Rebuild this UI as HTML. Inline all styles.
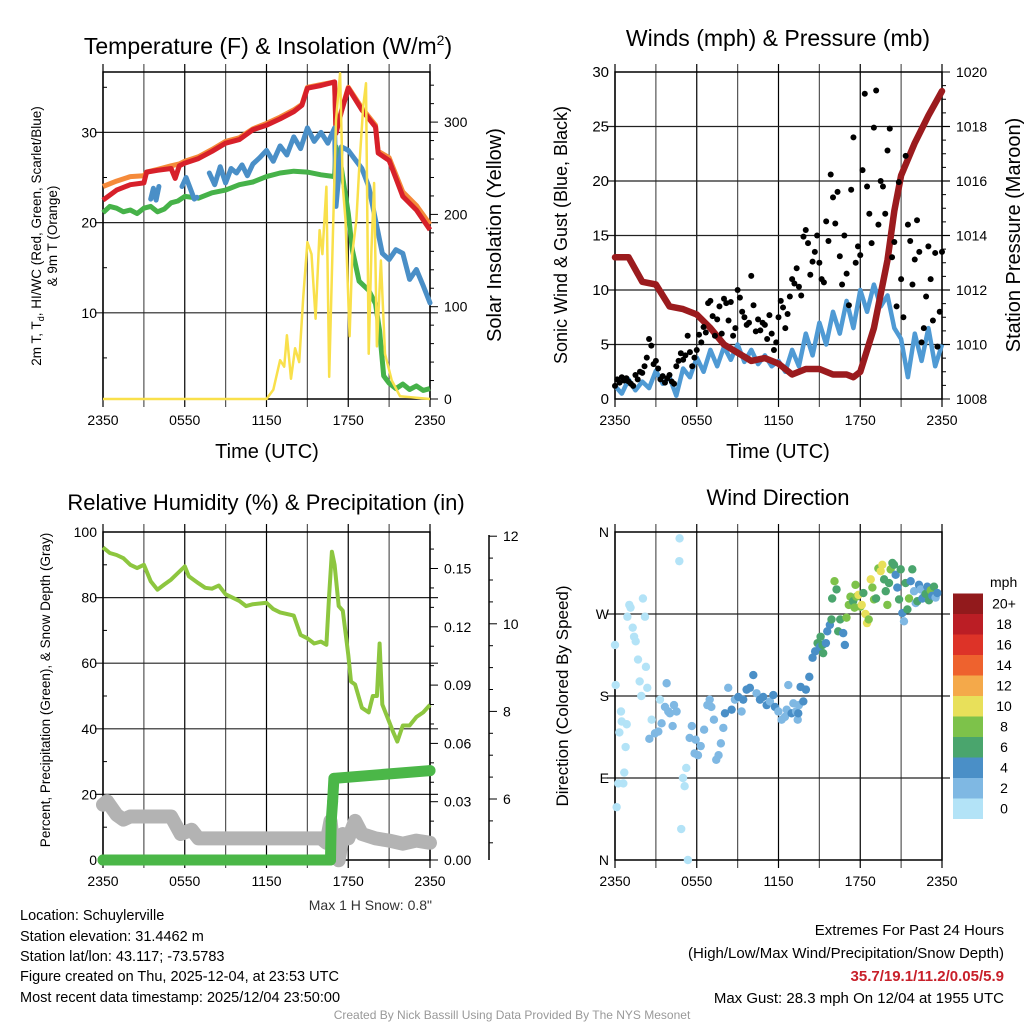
<!DOCTYPE html>
<html><head><meta charset="utf-8"><style>
html,body{margin:0;padding:0;background:#fff;}
svg{display:block;font-family:"Liberation Sans",sans-serif;}
</style></head><body>
<svg id="s" width="1024" height="1024" viewBox="0 0 1024 1024">
<rect width="1024" height="1024" fill="#fff"/>
<text x="268" y="54" font-size="23" text-anchor="middle">Temperature (F) &amp; Insolation (W/m<tspan font-size="14" dy="-9">2</tspan><tspan dy="9">)</tspan></text>
<text x="778" y="46" font-size="23" text-anchor="middle">Winds (mph) &amp; Pressure (mb)</text>
<text x="266" y="510" font-size="22" text-anchor="middle">Relative Humidity (%) &amp; Precipitation (in)</text>
<text x="778" y="505" font-size="22" text-anchor="middle">Wind Direction</text>
<text transform="translate(41,236) rotate(-90)" font-size="13.5" text-anchor="middle">2m T, T<tspan font-size="9" dy="3">d</tspan><tspan dy="-3">, HI/WC (Red, Green, Scarlet/Blue)</tspan></text>
<text transform="translate(57,236) rotate(-90)" font-size="13.5" text-anchor="middle">&amp; 9m T (Orange)</text>
<text transform="translate(501,235) rotate(-90)" font-size="20" text-anchor="middle">Solar Insolation (Yellow)</text>
<text x="267" y="458" font-size="20" text-anchor="middle">Time (UTC)</text>
<text x="778" y="458" font-size="20" text-anchor="middle">Time (UTC)</text>
<text transform="translate(567,235) rotate(-90)" font-size="18" text-anchor="middle">Sonic Wind &amp; Gust (Blue, Black)</text>
<text transform="translate(1020,235) rotate(-90)" font-size="20" text-anchor="middle">Station Pressure (Maroon)</text>
<text transform="translate(50,690) rotate(-90)" font-size="13.5" text-anchor="middle">Percent, Precipitation (Green), &amp; Snow Depth (Gray)</text>
<text transform="translate(568,696) rotate(-90)" font-size="17" text-anchor="middle">Direction (Colored By Speed)</text>
<text x="432" y="910" font-size="14" fill="#333" text-anchor="end">Max 1 H Snow: 0.8"</text>
<g font-size="14.5">
<text x="20" y="920">Location: Schuylerville</text>
<text x="20" y="941">Station elevation: 31.4462 m</text>
<text x="20" y="961">Station lat/lon: 43.117; -73.5783</text>
<text x="20" y="981">Figure created on Thu, 2025-12-04, at 23:53 UTC</text>
<text x="20" y="1002">Most recent data timestamp: 2025/12/04 23:50:00</text>
</g>
<g font-size="15" text-anchor="end">
<text x="1004" y="935">Extremes For Past 24 Hours</text>
<text x="1004" y="958">(High/Low/Max Wind/Precipitation/Snow Depth)</text>
<text x="1004" y="981" fill="#c8202a" font-weight="bold">35.7/19.1/11.2/0.05/5.9</text>
<text x="1004" y="1003">Max Gust: 28.3 mph On 12/04 at 1955 UTC</text>
</g>
<text x="512" y="1019" font-size="12" fill="#999" text-anchor="middle">Created By Nick Bassill Using Data Provided By The NYS Mesonet</text>
</svg>
<script>
// ---- data ----
const xTickLabels=["2350","0550","1150","1750","2350"];
const tempT=[0,1,2,3,3.2,4,5,5.3,5.6,6,7,8,9,10,11,12,13,14,14.6,15,16,17,17.1,17.5,18,19,20,20.2,21,22,23,24];
const tempV=[22.5,23.6,24.2,24.4,25.6,25.8,26,24.9,26.3,26.6,27.1,27.9,28.8,29.2,30.3,30.8,31.5,32.3,33,34.9,35.2,35.6,29.9,32.3,34.9,32.5,30.6,27.7,26.9,22.9,21.4,19.2];
const orangeT=[0,1,2,3,3.2,4,5,5.6,6,7,8,9,10,11,12,13,14,14.6,15,16,17,17.1,17.5,18,19,20,20.2,21,22,23,24];
const orangeV=[24.0,24.6,25.1,25.2,25.6,25.9,26.3,26.5,26.8,27.3,28.1,29.0,29.4,30.4,31.0,31.7,32.5,33.1,35.0,35.3,35.6,30,32.4,35,32.7,30.8,27.9,27.2,23.4,21.9,19.8];
const dewT=[0,0.5,1,1.5,2,2.5,3,3.5,4,4.5,5,5.5,6,7,8,9,10,11,12,13,14,15,16,17,17.1,17.5,18,18.3,18.8,19.5,20,20.3,20.6,21,21.5,22,22.5,23,23.5,24];
const dewV=[21.1,21.8,21.6,21.2,21.4,21.0,21.6,21.8,21.2,21.5,22.2,22.4,22.9,22.7,23.3,23.6,24.2,24.5,25.1,25.5,25.7,25.6,25.3,25.1,28.4,26.0,21.0,17.0,13.5,12.5,11.0,8.0,3.0,2.2,1.6,2.1,1.5,1.9,1.4,1.6];
const hiT=[3.5,3.7,3.9,4.1,null,5.8,6.1,6.4,6.7,6.9,null,7.8,8.2,8.6,9.0,9.4,9.8,10.2,10.6,11,11.5,12,12.5,13,13.5,14,14.5,15,15.5,16,16.5,17,17.1,17.5,18,18.5,19,19.5,20,20.5,21,21.5,22,22.5,23,23.5,24];
const hiV=[22.6,23.8,22.5,24.0,null,24.0,25.0,23.8,22.6,22.8,null,25.5,24.2,26.2,24.4,26.0,25.5,26.4,25.2,26.5,27.2,28.0,26.8,28.5,27.5,29.5,28.2,30.5,29.0,30.0,28.8,30.5,21.8,28.4,28.0,27.0,26.0,24.0,20.3,16.6,15.9,17.0,16.6,13.7,14.8,13.0,11.1];
const solT=[0,12,12.5,13,13.3,13.5,13.8,14.1,14.4,14.7,15,15.3,15.6,15.9,16.1,16.4,16.6,16.9,17.1,17.4,17.6,17.8,18.1,18.3,18.6,18.8,19.1,19.3,19.5,19.7,19.9,20.1,20.4,20.7,21.2,21.8,24];
const solV=[0,0,10,42,35,69,22,55,40,111,170,157,87,183,157,230,24,194,302,353,230,194,68,158,194,248,317,342,49,160,234,57,150,49,20,3,0];
const windV=[1.2,0.5,1.8,0.8,1.6,1.0,2.6,1.4,2.0,0.3,2.8,2.0,3.8,2.5,4.5,3.0,4.8,3.6,5.0,3.4,4.5,3.2,4.0,3.0,3.5,2.5,4.5,3.0,6.0,4.0,7.0,5.0,8.0,6.0,9.0,6.5,10.0,8.0,10.5,8.5,9.5,6.5,5.5,2.0,6.0,3.5,6.5,3.0,5.0];
const gustV=[1.2,1.8,1.5,2.0,1.7,1.9, 1.6,1.4,1.2,2.2,1.8,2.5, 2.4,3.0,3.8,5.5,4.9,3.2, 3.5,2.8,1.8,2.1,1.5,1.9, 2.2,1.6,1.4,3.0,3.5,4.2, 3.6,4.0,5.8,4.3,3.0,3.8, 4.5,5.9,5.2,6.6,6.1,8.8, 9.0,7.6,5.8,7.3,8.5,6.0, 9.2,8.8,7.2,8.9,5.8,6.5, 10.0,9.3,8.0,7.5,6.8,7.0, 11.3,8.6,6.2,7.3,6.3,7.0, 6.8,5.5,7.7,6.0,4.5,5.2, 7.5,9.0,8.4,6.5,7.8,9.4, 11.0,10.6,12.0,10.3,9.5,14.9, 15.5,14.3,11.4,12.6,13.5,15.0, 12.5,11.0,10.7,16.3,14.5,20.6, 18.5,16.1,19.0,13.1,10.5,15.0, 11.5,8.6,19.2,24.0,12.5,14.0, 13.2,21.0,28.0,19.5,17.0,14.3, 24.9,28.3,16.0,20.0,19.5,17.0, 22.8,24.8,13.0,14.4,8.5,19.9, 11.0,7.5,22.3,16.0,14.5,10.5, 12.8,16.4,13.5,5.2,6.5,9.4, 14.0,11.0,7.2,13.4,4.8,8.0,13.5];
const presT=[0,1,2,3,4,5,6,7,8,9,10,11,12,13,14,15,16,17,17.5,18,19,20,20.5,21,22,23,24];
const presV=[1013.2,1013.2,1012.3,1012.2,1011.4,1011.3,1011.1,1010.6,1010.0,1009.7,1009.4,1009.5,1009.3,1008.9,1009.1,1009.1,1008.9,1008.9,1008.8,1009.0,1010.6,1013.1,1014.9,1016.2,1017.4,1018.4,1019.3];
const rhT=[0,0.5,1,1.5,2,2.5,3,3.5,4,4.5,5,5.5,6,6.3,7,7.5,8,8.5,9,9.5,10,10.5,11,12,12.5,13,14,14.5,15,15.5,16,16.4,16.6,16.8,17,17.3,17.6,18,18.2,18.5,19,19.5,19.8,20.1,20.3,20.5,21,21.3,21.6,22,22.5,23,23.5,24];
const rhV=[95.3,93.6,93,92,90,89,90,85,82.4,84,85.5,87.5,89.5,86.5,84.4,83,82.7,83.7,81,80,79,77.4,78,78.4,76.5,75.5,74.5,68.6,67.6,66,66.6,65.6,81,94,90,77.4,76,62.5,54.4,53.5,46.4,45,50,50,66,47.4,42.2,39,36.1,41,41,43.6,45,47.3];
const precT=[0,16.7,16.75,16.85,16.95,24];
const precV=[0,0,0.02,0.03,0.042,0.046];
const snowT=[0,0.3,1,1.5,2,5,5.7,6.5,7,16,16.4,16.7,17,17.3,17.6,18,18.5,19,20,21,22,23,24];
const snowV=[5.87,5.95,5.64,5.53,5.6,5.6,5.2,5.3,5.1,5.1,5.0,5.5,4.7,4.6,5.2,5.1,5.5,5.2,5.1,5.05,4.98,5.05,5.0];
const dirT=[0.0,0.05,0.12,0.24,0.32,0.44,0.49,0.61,0.68,0.78,0.86,0.91,1.05,1.14,1.3,1.4,1.52,1.69,1.81,1.93,2.05,2.2,2.27,2.37,2.52,2.69,2.93,3.18,3.3,3.42,3.67,3.79,3.91,4.03,4.23,4.33,4.52,4.72,4.74,4.86,4.99,5.11,5.23,5.35,5.48,5.64,5.84,5.92,6.09,6.29,6.54,6.78,6.95,7.07,7.26,7.43,7.6,7.77,7.95,8.07,8.31,8.56,8.8,9.05,9.29,9.41,9.66,9.9,10.15,10.39,10.64,10.88,11.13,11.37,11.62,11.74,11.99,12.23,12.47,12.6,12.72,12.96,13.09,13.29,13.41,13.45,13.5,13.62,13.82,14.01,14.26,14.5,14.69,14.87,15.04,15.09,15.23,15.28,15.48,15.58,15.77,15.89,15.94,16.11,16.26,16.38,16.53,16.75,16.87,16.99,17.16,17.28,17.48,17.58,17.65,17.72,17.87,18.01,18.11,18.23,18.38,18.5,18.62,18.77,18.89,19.01,19.16,19.33,19.5,19.62,19.75,19.87,19.99,20.11,20.23,20.36,20.48,20.6,20.72,20.85,20.97,21.09,21.21,21.33,21.46,21.58,21.7,21.82,21.95,22.07,22.19,22.31,22.43,22.56,22.68,22.8,22.92,23.04,23.17,23.29,23.41,23.53,23.66,23.78,23.9];
const dirV=[236,192,58,84,140,163,152,84,96,124,149,267,280,277,255,245,240,220,196,180,287,267,212,189,133,154,139,141,176,150,168,194,163,161,147,170,163,328,353,34,90,81,101,0,134,147,117,132,115,125,143,170,176,168,154,110,115,128,145,161,189,165,176,179,163,176,187,189,203,183,176,179,170,174,181,168,163,154,157,165,192,161,172,163,154,161,170,190,174,187,201,222,229,238,234,245,236,227,238,251,258,264,287,306,297,251,264,249,236,266,280,289,284,277,302,289,291,278,280,293,270,260,264,308,299,286,287,320,317,324,308,295,280,304,319,326,324,313,299,286,319,271,262,304,275,287,306,319,295,282,284,302,297,287,289,292,300,285,296,290,300,288,293];
const dirS=[1,1,1,1,1,1,1,1,1,1,1,1,1,1,1,1,1,1,1,1,1,1,1,1,3,1,3,3,1,3,3,3,3,3,3,3,3,1,1,1,1,1,1,1,3,3,3,3,3,3,3,3,3,3,3,3,3,3,3,5,3,5,3,5,3,5,5,5,5,3,5,5,5,3,5,5,3,3,3,3,3,5,3,3,3,5,3,5,5,5,5,5,5,7,5,7,7,7,5,5,5,7,7,9,7,7,7,5,5,9,9,9,7,9,9,9,11,9,11,7,11,11,9,11,9,9,7,9,11,11,7,7,9,7,9,7,7,5,5,7,7,5,3,7,7,9,5,7,3,3,7,5,3,5,5,7,5,7,9,5,7,3,5];
const cbLabels=["0","2","4","6","8","10","12","14","16","18","20+"];
const cbColors=["#b3e3f7","#7fb8e3","#4a8fc7","#4aa56d","#7dc24a","#e8e05a","#f4a94a","#ee622e","#dd3328","#bb1e25","#921a1c"];

// ---- drawing ----
const S=document.getElementById('s');const NS="http://www.w3.org/2000/svg";
function mk(tag,attrs,parent){const e=document.createElementNS(NS,tag);for(const k in attrs)e.setAttribute(k,attrs[k]);(parent||S).appendChild(e);return e;}
function grp(name){const g=mk('g',{});return g;}
function pathD(T,V,xf,yf){let d='',pen=false;for(let i=0;i<T.length;i++){if(T[i]===null||V[i]===null||V[i]===undefined){pen=false;continue;}d+=(pen?'L':'M')+xf(T[i]).toFixed(1)+' '+yf(V[i]).toFixed(1);pen=true;}return d;}
function frame(name,x0,x1,y0,y1,hv,ly){const g=grp(name);
 for(let i=0;i<=8;i++){const x=x0+(x1-x0)*i/8;mk('line',{x1:x,x2:x,y1:y0-8,y2:y1+8,stroke:i%2?'#555':'#000','stroke-width':1.2},g);}
 hv.forEach(y=>{mk('line',{x1:x0-8,x2:x1+8,y1:y,y2:y,stroke:'#222','stroke-width':1.2},g);});
 mk('rect',{x:x0,y:y0,width:x1-x0,height:y1-y0,fill:'none',stroke:'#000','stroke-width':1.5},g);
 xTickLabels.forEach((s,i)=>{const t=mk('text',{x:x0+(x1-x0)*i/4,y:ly||(y1+26),'font-size':14,'text-anchor':'middle'},g);t.textContent=s;});
 return g;}
function ticks(g,x,vals,yf,side,len,lab,fs){vals.forEach((v,i)=>{const y=yf(v);mk('line',{x1:x,x2:x+side*len,y1:y,y2:y,stroke:'#000','stroke-width':1},g);if(lab){const t=mk('text',{x:x+side*(len+6),y:y+5,'font-size':fs||14,'text-anchor':side<0?'end':'start'},g);t.textContent=lab[i];}});}

// Panel 1
(function(){const x0=103,x1=430,y0=72,y1=399;const xf=t=>x0+t/24*(x1-x0);const yT=v=>403-v*9.02;const yI=v=>399-v*0.923;
 const g=frame('temperature-panel',x0,x1,y0,y1,[yT(10),yT(20),yT(30)]);
 ticks(g,x0,[10,20,30],yT,-1,0,["10","20","30"]);
 ticks(g,x0,[5,15,25,35],yT,1,4);
 ticks(g,x1,[0,100,200,300],yI,1,8,["0","100","200","300"]);
 ticks(g,x1,[20,40,60,80,120,140,160,180,220,240,260,280,320,340],yI,1,4);
 const o=mk('path',{d:pathD(orangeT,orangeV,xf,yT),fill:'none',stroke:'#f58a3a','stroke-width':5,'stroke-linejoin':'round'});
 const r=mk('path',{d:pathD(tempT,tempV,xf,yT),fill:'none',stroke:'#d7202a','stroke-width':5,'stroke-linejoin':'round'});
 const d=mk('path',{d:pathD(dewT,dewV,xf,yT),fill:'none',stroke:'#46b249','stroke-width':5,'stroke-linejoin':'round'});
 const b=mk('path',{d:pathD(hiT,hiV,xf,yT),fill:'none',stroke:'#4a8fc7','stroke-width':5,'stroke-linejoin':'round','stroke-linecap':'round'});
 const y=mk('path',{d:pathD(solT,solV,xf,yI),fill:'none',stroke:'#f9e04b','stroke-width':2.5,'stroke-linejoin':'round'});
})();
// Panel 2
(function(){const x0=615,x1=942,y0=72,y1=399;const xf=t=>x0+t/24*(x1-x0);const yW=v=>399-v*10.9;const yP=p=>399-(p-1008)*27.25;
 const g=frame('winds-panel',x0,x1,y0,y1,[yW(5),yW(10),yW(15),yW(20),yW(25)]);
 ticks(g,x0,[0,5,10,15,20,25,30],yW,-1,0,["0","5","10","15","20","25","30"],15);
 ticks(g,x1,[1008,1010,1012,1014,1016,1018,1020],yP,1,8,["1008","1010","1012","1014","1016","1018","1020"]);
 ticks(g,x1,[1008.5,1009,1009.5,1010.5,1011,1011.5,1012.5,1013,1013.5,1014.5,1015,1015.5,1016.5,1017,1017.5,1018.5,1019,1019.5],yP,1,4);
 const wT=windV.map((v,i)=>i*0.5);
 const w=mk('path',{d:pathD(wT,windV,xf,yW),fill:'none',stroke:'#4f9ad4','stroke-width':4.5,'stroke-linejoin':'round'});
 const p=mk('path',{d:pathD(presT,presV,xf,yP),fill:'none',stroke:'#9b1b1e','stroke-width':6.5,'stroke-linejoin':'round','stroke-linecap':'round'});
 gustV.forEach((v,i)=>{if(!isFinite(v))return;const c=mk('circle',{cx:xf(i/6),cy:yW(v),r:3,fill:'#000'});});
})();
// Panel 3
(function(){const x0=103,x1=430,y0=532,y1=860;const xf=t=>x0+t/24*(x1-x0);const yR=v=>860-v*3.28;const yPr=v=>860-v/0.03*58.3;const yS=v=>799-(v-6)*43.8;
 const g=frame('humidity-panel',x0,x1,y0,y1,[yR(20),yR(40),yR(60),yR(80)],886);
 ticks(g,x0,[0,20,40,60,80,100],yR,-1,0,["0","20","40","60","80","100"]);
 ticks(g,x0,[10,30,50,70,90],yR,1,4);
 ticks(g,x1,[0,0.03,0.06,0.09,0.12,0.15],yPr,1,8,["0.00","0.03","0.06","0.09","0.12","0.15"]);
 ticks(g,x1,[0.01,0.02,0.04,0.05,0.07,0.08,0.1,0.11,0.13,0.14,0.16],yPr,1,4);
 mk('line',{x1:489,x2:489,y1:535,y2:860,stroke:'#000','stroke-width':1.5},g);
 ticks(g,489,[6,8,10,12],yS,1,8,["6","8","10","12"]);
 ticks(g,489,[5,5.5,6.5,7,7.5,8.5,9,9.5,10.5,11,11.5],yS,1,4);
 const sn=mk('path',{d:pathD(snowT,snowV,xf,yS),fill:'none',stroke:'#b3b3b3','stroke-width':14,'stroke-linejoin':'round','stroke-linecap':'round'});
 const pr=mk('path',{d:pathD(precT,precV,xf,yPr),fill:'none',stroke:'#4bb748','stroke-width':11,'stroke-linecap':'round','stroke-linejoin':'round'});
 precT.forEach((t,i)=>{const c=mk('circle',{cx:xf(t),cy:yPr(precV[i]),r:5.5,fill:'#4bb748'});});
 const rh=mk('path',{d:pathD(rhT,rhV,xf,yR),fill:'none',stroke:'#8dc63f','stroke-width':4,'stroke-linejoin':'round'});
})();
// Panel 4
(function(){const x0=615,x1=942,y0=532,y1=860;const xf=t=>x0+t/24*(x1-x0);const yD=d=>860-d*(328/360);
 const g=frame('wind-direction-panel',x0,x1,y0,y1,[yD(90),yD(180),yD(270)]);
 ticks(g,x0,[0,90,180,270,360],yD,-1,0,["N","E","S","W","N"]);
 dirT.forEach((t,i)=>{if(dirV[i]===undefined||dirS[i]===undefined)return;const k=Math.min(10,Math.floor(dirS[i]/2));const c=mk('circle',{cx:xf(t),cy:yD(dirV[i]),r:4.2,fill:cbColors[k]});});
 const lg=grp('speed-colorbar');
 const lt=mk('text',{x:990,y:587,'font-size':14},lg);lt.textContent='mph';
 cbColors.forEach((c,i)=>{const y=819-(i+1)*20.5;const r=mk('rect',{x:953,y:y,width:30,height:20.5,fill:c},lg);const t=mk('text',{x:1004,y:y+15,'font-size':14,'text-anchor':'middle'},lg);t.textContent=cbLabels[i];});
})();
</script>
</body></html>
